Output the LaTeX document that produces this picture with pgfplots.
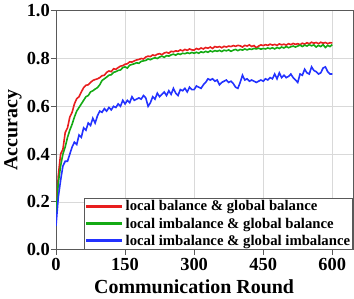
\documentclass[border=0pt]{standalone}
\usepackage{fontspec}
\setmainfont{Liberation Serif}
\usepackage{pgfplots}
\pgfplotsset{compat=1.18}
\usepackage{pgfplotstable}
\definecolor{cred}{RGB}{232,30,30}
\definecolor{cgreen}{RGB}{20,170,20}
\definecolor{cblue}{RGB}{35,50,255}

\pgfplotstableread{
x red green blue
0 0.15 0.15 0.10
5 0.31 0.28 0.22
10 0.40 0.35 0.29
15 0.42 0.40 0.35
20 0.49 0.43 0.37
25 0.51 0.47 0.37
30 0.555 0.50 0.40
35 0.575 0.525 0.43
40 0.61 0.555 0.45
45 0.632 0.58 0.44
50 0.64 0.595 0.48
55 0.66 0.61 0.47
60 0.678 0.625 0.51
65 0.688 0.64 0.50
70 0.69 0.645 0.53
75 0.70 0.66 0.52
80 0.708 0.665 0.55
85 0.712 0.672 0.53
90 0.715 0.678 0.56
95 0.72 0.69 0.58
100 0.728 0.708 0.575
105 0.73 0.715 0.59
110 0.742 0.722 0.58
115 0.748 0.73 0.595
120 0.745 0.732 0.585
125 0.757 0.742 0.60
130 0.755 0.745 0.595
135 0.762 0.75 0.61
140 0.768 0.752 0.60
145 0.77 0.762 0.625
150 0.776 0.765 0.61
155 0.778 0.76 0.625
160 0.786 0.772 0.615
165 0.785 0.775 0.64
170 0.79 0.778 0.625
175 0.794 0.782 0.63
180 0.796 0.78 0.635
185 0.80 0.788 0.63
190 0.798 0.79 0.645
195 0.806 0.792 0.635
200 0.81 0.798 0.60
205 0.808 0.795 0.615
210 0.815 0.80 0.64
215 0.812 0.803 0.63
220 0.818 0.80 0.655
225 0.82 0.806 0.64
230 0.816 0.81 0.65
235 0.823 0.805 0.66
240 0.826 0.812 0.645
245 0.822 0.81 0.665
250 0.83 0.815 0.65
255 0.828 0.818 0.675
260 0.832 0.814 0.655
265 0.83 0.82 0.645
270 0.836 0.817 0.67
275 0.832 0.822 0.665
280 0.838 0.82 0.675
285 0.834 0.824 0.66
290 0.84 0.821 0.68
295 0.836 0.825 0.67
300 0.835 0.822 0.67
305 0.842 0.826 0.685
310 0.838 0.822 0.68
315 0.844 0.828 0.675
320 0.84 0.825 0.69
325 0.846 0.83 0.70
330 0.843 0.826 0.715
335 0.848 0.832 0.71
340 0.842 0.828 0.715
345 0.85 0.833 0.705
350 0.847 0.83 0.71
355 0.85 0.834 0.69
360 0.845 0.829 0.70
365 0.851 0.835 0.705
370 0.848 0.832 0.71
375 0.852 0.836 0.70
380 0.85 0.83 0.705
385 0.854 0.835 0.695
390 0.851 0.838 0.68
395 0.855 0.833 0.675
400 0.853 0.838 0.70
405 0.848 0.835 0.73
410 0.855 0.84 0.71
415 0.852 0.836 0.715
420 0.857 0.84 0.705
425 0.85 0.838 0.71
430 0.854 0.842 0.705
435 0.845 0.84 0.70
440 0.852 0.843 0.705
445 0.857 0.839 0.71
450 0.854 0.842 0.705
455 0.858 0.84 0.715
460 0.855 0.844 0.71
465 0.86 0.841 0.72
470 0.856 0.845 0.715
475 0.859 0.84 0.735
480 0.855 0.846 0.715
485 0.861 0.842 0.74
490 0.857 0.848 0.72
495 0.86 0.844 0.73
500 0.856 0.85 0.72
505 0.862 0.845 0.725
510 0.858 0.849 0.735
515 0.863 0.852 0.72
520 0.859 0.848 0.71
525 0.862 0.852 0.70
530 0.858 0.856 0.735
535 0.864 0.85 0.73
540 0.86 0.856 0.755
545 0.866 0.852 0.74
550 0.862 0.858 0.735
555 0.868 0.853 0.765
560 0.864 0.857 0.75
565 0.867 0.848 0.745
570 0.862 0.855 0.735
575 0.868 0.85 0.74
580 0.864 0.858 0.76
585 0.867 0.846 0.765
590 0.862 0.855 0.745
595 0.866 0.85 0.735
600 0.865 0.858 0.735
}\datatable

\begin{document}
\begin{tikzpicture}
\begin{axis}[
  scale only axis, width=297bp, height=239bp,
  xmin=0, xmax=645, ymin=0, ymax=1,
  xtick={0,150,300,450,600}, ytick={0,0.2,0.4,0.6,0.8,1.0},
  yticklabel style={/pgf/number format/fixed, /pgf/number format/fixed zerofill, /pgf/number format/precision=1, inner xsep=1bp},
  /pgf/number format/assume math mode=true,
  tick label style={font=\fontsize{18.5}{18.5}\selectfont\bfseries},
  label style={font=\fontsize{20}{20}\selectfont\bfseries},
  xlabel={Communication Round}, ylabel={Accuracy},
  xlabel style={at={(axis description cs:0.465,-0.184)}, anchor=base},
  ylabel style={at={(axis description cs:-0.145,0.5)}, anchor=center},
  grid=major, grid style={gray!30, line width=0.8pt},
  axis line style={black!65, line width=1pt},
  tick style={black!65, line width=1pt},
  tick align=outside, tick pos=left, major tick length=5bp,
  legend style={at={(1,0)}, anchor=south east, font=\fontsize{14.8}{14.8}\selectfont\bfseries,
    draw=black!65, line width=0.8pt, inner sep=0.5bp, row sep=1.5bp},
  legend cell align=left,
  legend image code/.code={\draw[#1, line width=3bp] (0bp,0bp) -- (36bp,0bp);},
]
\addplot[cred, line width=1.6bp] table[x=x, y=red] {\datatable};
\addlegendentry{local balance \& global balance}
\addplot[cgreen, line width=1.6bp] table[x=x, y=green] {\datatable};
\addlegendentry{local imbalance \& global balance}
\addplot[cblue, line width=1.6bp] table[x=x, y=blue] {\datatable};
\addlegendentry{local imbalance \& global imbalance}
\end{axis}
\pgfresetboundingbox
\path ([shift={(-56bp,-49bp)}]current axis.south west) rectangle ([shift={(1bp,10.7bp)}]current axis.north east);
\end{tikzpicture}
\end{document}
